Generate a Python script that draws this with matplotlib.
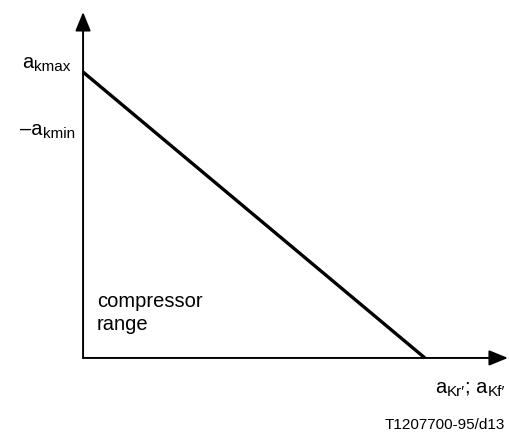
import matplotlib
matplotlib.use("Agg")
import matplotlib.pyplot as plt

plt.rcParams['font.family'] = ['Liberation Sans', 'DejaVu Sans']

# data
line_x = [0.0, 1.0]
line_y = [1.0, 0.0]
ylabel_pos = [1.014, 0.780]
ylabel_base = ['a', '–a']
ylabel_sub = ['kmax', 'kmin']
xlabel_parts = [('a', "Kr′"), ('; a', "Kf′")]
region_label = "compressor\nrange"
code_label = "T1207700-95/d13"

BASE = 14.5
SUB = 11

fig = plt.figure(figsize=(5.10, 4.32), dpi=100)
ax = fig.add_axes([0, 0, 1, 1])
ax.set_xlim(-0.243, 1.249)
ax.set_ylim(-0.259, 1.252)
ax.axis('off')

# axes with arrows
arrow = dict(arrowstyle='-|>,head_length=1.15,head_width=0.47', lw=1.4, color='black',
             shrinkA=0, shrinkB=0)
ax.annotate('', xy=(1.243, 0), xytext=(0, 0), arrowprops=arrow)
ax.annotate('', xy=(0, 1.21), xytext=(0, 0), arrowprops=arrow)

ax.plot(line_x, line_y, color='black', lw=2.4, solid_capstyle='butt')


def sub_text(x, y, parts):
    first = None
    prev = None
    for base, sub in parts:
        if prev is None:
            t = ax.text(x, y, base, fontsize=BASE, ha='left', va='baseline')
            first = t
        else:
            t = ax.annotate(base, xy=(1, 0), xycoords=(prev, first), fontsize=BASE,
                            ha='left', va='bottom')
        s = ax.annotate(sub, xy=(1, 0), xycoords=t, xytext=(0.5, 0.5),
                        textcoords='offset points', fontsize=SUB, ha='left', va='baseline')
        prev = s


for y, b, s in zip(ylabel_pos, ylabel_base, ylabel_sub):
    x0 = -0.178 if b == 'a' else -0.184
    sub_text(x0, y, [(b, s)])

sub_text(1.029, -0.122, xlabel_parts)

ax.text(0.04, 0.157, region_label, fontsize=BASE, ha='left', va='center', linespacing=1.25)
ax.text(1.234, -0.235, code_label, fontsize=11, ha='right', va='center')

fig.savefig('out.png', dpi=100)
